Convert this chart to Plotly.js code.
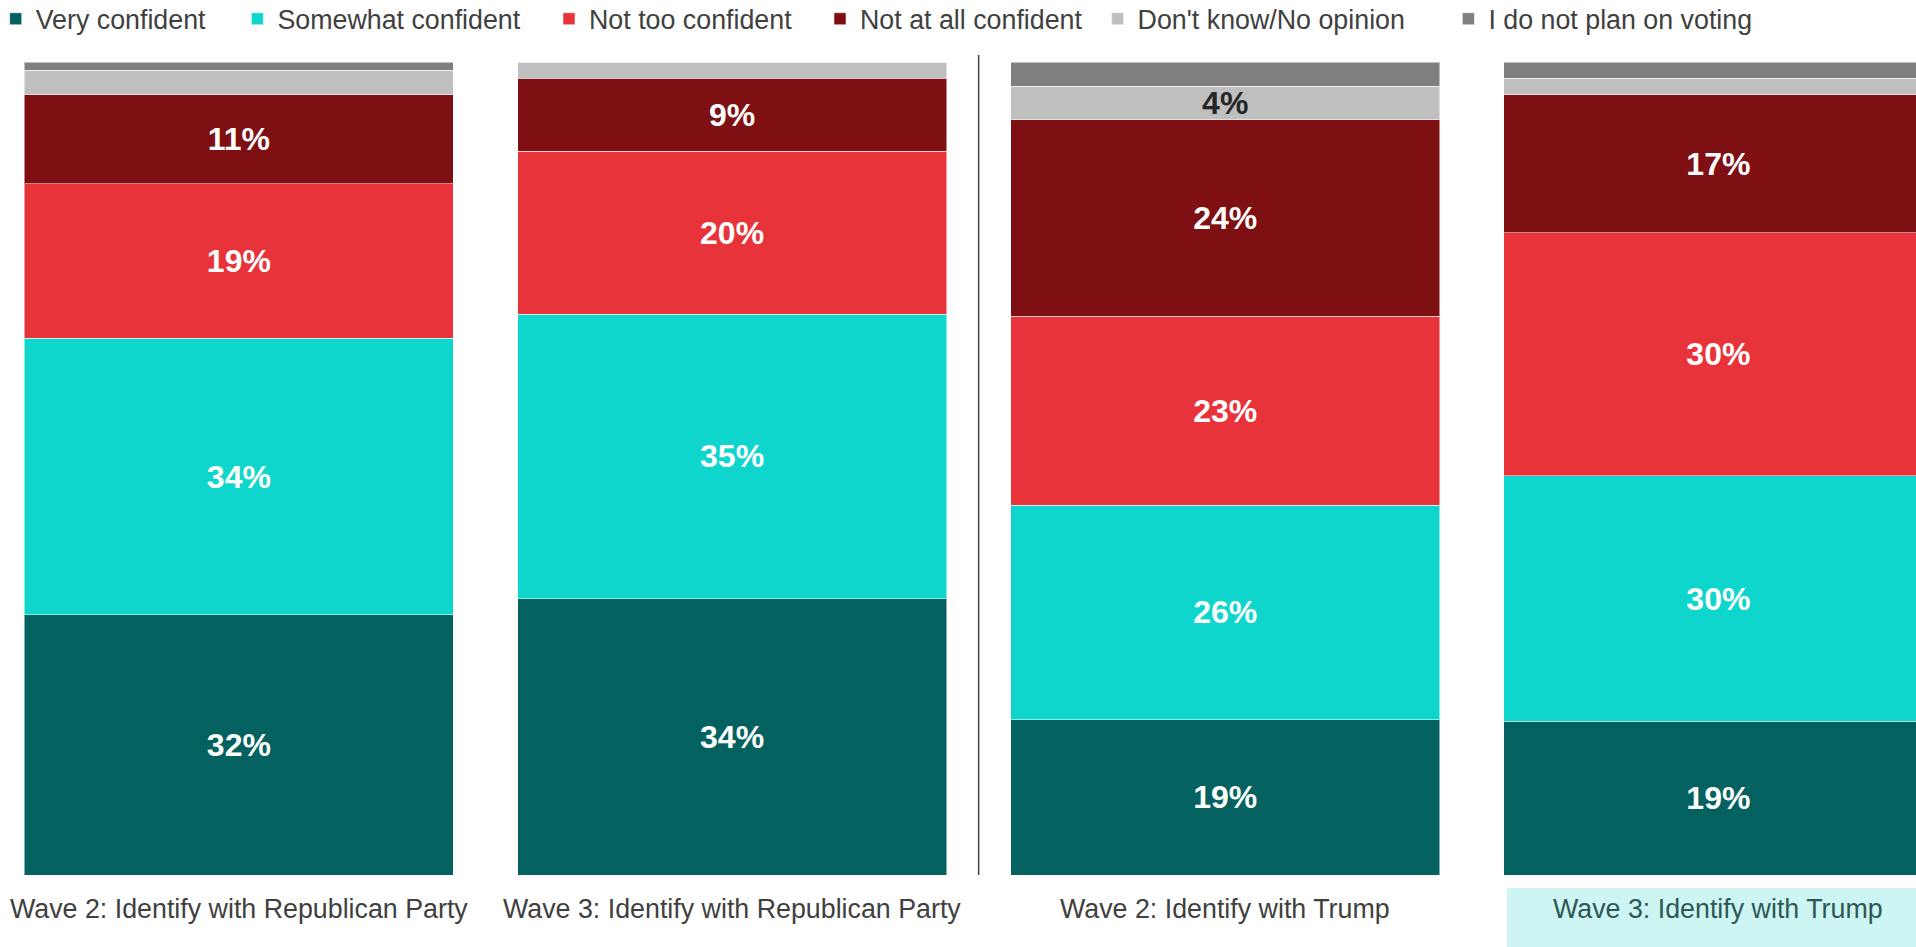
<!DOCTYPE html>
<html>
<head>
<meta charset="utf-8">
<script src="https://cdn.plot.ly/plotly-3.0.1.min.js"></script>
<style>
html,body{margin:0;padding:0;background:#fff;}
#chart{width:1916px;height:947px;}
</style>
</head>
<body>
<div id="chart"></div>
<script>
const categories = [
  'Wave 2: Identify with Republican Party',
  'Wave 3: Identify with Republican Party',
  'Wave 2: Identify with Trump',
  'Wave 3: Identify with Trump'
];
const seriesNames = ['Very confident','Somewhat confident','Not too confident','Not at all confident',"Don't know/No opinion",'I do not plan on voting'];
const veryConfident     = [32, 34, 19.1, 18.9];
const somewhatConfident = [34, 35, 26.4, 30.2];
const notTooConfident   = [19, 20, 23.2, 29.9];
const notAtAllConfident = [11, 9, 24.2, 17];
const dontKnow          = [3, 2, 4.1, 2];
const notVoting         = [1, 0, 3, 2];

const colors = ['#03615F','#0FD6CC','#E8333A','#7E0F12','#BFBFBF','#7F7F7F'];
const values = [veryConfident, somewhatConfident, notTooConfident, notAtAllConfident, dontKnow, notVoting];
const legendTextX = [35.7, 277.4, 589, 860, 1137.6, 1488.4];

const W = 1916, H = 947, mt = 62, mb = 72;
const plotH = H - mt - mb;
const fontFam = 'Liberation Sans, Arial, sans-serif';

const traces = values.map((vals, i) => {
  let text, color;
  if (i < 4) {
    text = vals.map(v => Math.round(v) + '%');
    color = '#FFFFFF';
  } else if (i === 4) {
    text = vals.map(v => v >= 4 ? Math.round(v) + '%' : '');
    color = '#262626';
  } else {
    text = vals.map(() => '');
    color = '#262626';
  }
  return {
    type: 'bar',
    name: seriesNames[i],
    x: categories,
    y: vals,
    text: text,
    textposition: 'inside',
    insidetextanchor: 'middle',
    textangle: 0,
    constraintext: 'none',
    insidetextfont: {family: fontFam, size: 32, color: color, weight: 'bold'},
    marker: {color: colors[i], line: {color: 'rgba(255,255,255,0.5)', width: 1}},
    hoverinfo: 'skip',
    legend: i === 0 ? 'legend' : 'legend' + (i + 1)
  };
});

const layout = {
  width: W, height: H,
  margin: {l: 0, r: 0, t: mt, b: mb, pad: 0, autoexpand: false},
  paper_bgcolor: '#FFFFFF',
  plot_bgcolor: '#FFFFFF',
  font: {family: fontFam},
  barmode: 'stack',
  bargap: 0.13,
  showlegend: true,
  xaxis: {
    type: 'category',
    range: [-0.4844, 3.4007],
    showticklabels: false,
    showgrid: false, zeroline: false, showline: false, ticks: '',
    fixedrange: true, automargin: false
  },
  yaxis: {
    range: [0, 100],
    showticklabels: false,
    showgrid: false, zeroline: false, showline: false, ticks: '',
    fixedrange: true, automargin: false
  },
  shapes: [
    {type: 'rect', xref: 'paper', yref: 'paper',
     x0: 1507 / W, x1: 1.01, y0: (875 - 947) / plotH - 0.01, y1: (875 - 888) / plotH,
     fillcolor: '#CCF5F3', line: {width: 0}, layer: 'below'},
    {type: 'line', xref: 'x', yref: 'paper', x0: 1.5, x1: 1.5, y0: 0, y1: (875 - 55) / plotH,
     line: {color: '#404040', width: 1.5}}
  ],
  annotations: categories.map((c, i) => ({
    text: c, xref: 'x', yref: 'paper', x: i, y: (875 - 908.5) / plotH,
    xanchor: 'center', yanchor: 'middle', showarrow: false,
    font: {family: fontFam, size: 26.8, color: i === 3 ? '#2E5856' : '#404040'}
  }))
};

seriesNames.forEach((n, i) => {
  const key = i === 0 ? 'legend' : 'legend' + (i + 1);
  layout[key] = {
    x: (legendTextX[i] - 40) / W,
    y: 1 + (mt - 18.8) / plotH,
    xanchor: 'left', yanchor: 'middle',
    orientation: 'h',
    bgcolor: 'rgba(0,0,0,0)',
    borderwidth: 0,
    font: {family: fontFam, size: 26.8, color: '#404040'},
    itemclick: false, itemdoubleclick: false
  };
});

Plotly.newPlot('chart', traces, layout, {displayModeBar: false, staticPlot: true});
</script>
</body>
</html>
